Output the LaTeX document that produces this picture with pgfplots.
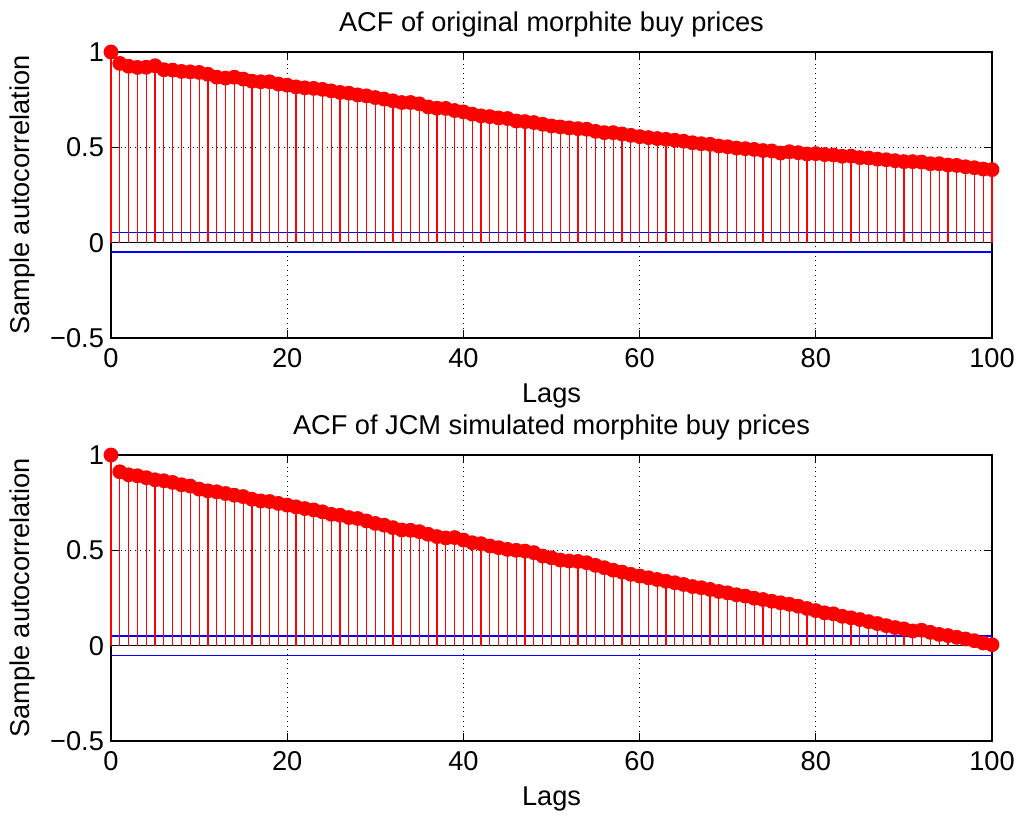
\documentclass[border=0pt]{standalone}
\usepackage{pgfplots}
\usepackage{pgfplotstable}
\pgfplotsset{compat=1.18}
\usepackage{fontspec}
\setmainfont{Liberation Sans}

\pgfplotstableread{
lag top bot
0 1.000 1.000
1 0.940 0.912
2 0.925 0.896
3 0.919 0.891
4 0.920 0.881
5 0.928 0.870
6 0.907 0.865
7 0.905 0.856
8 0.898 0.844
9 0.896 0.837
10 0.893 0.821
11 0.883 0.812
12 0.868 0.807
13 0.863 0.798
14 0.868 0.789
15 0.858 0.782
16 0.847 0.768
17 0.844 0.759
18 0.844 0.756
19 0.832 0.746
20 0.826 0.737
21 0.817 0.728
22 0.812 0.719
23 0.809 0.712
24 0.804 0.702
25 0.796 0.689
26 0.788 0.684
27 0.784 0.672
28 0.775 0.667
29 0.770 0.654
30 0.761 0.641
31 0.753 0.632
32 0.744 0.619
33 0.735 0.607
34 0.735 0.605
35 0.728 0.598
36 0.712 0.584
37 0.705 0.572
38 0.704 0.565
39 0.693 0.567
40 0.686 0.554
41 0.674 0.540
42 0.665 0.535
43 0.661 0.523
44 0.654 0.514
45 0.651 0.505
46 0.638 0.500
47 0.635 0.496
48 0.630 0.488
49 0.621 0.470
50 0.612 0.461
51 0.607 0.449
52 0.602 0.444
53 0.598 0.442
54 0.595 0.435
55 0.584 0.421
56 0.577 0.409
57 0.577 0.396
58 0.570 0.386
59 0.563 0.374
60 0.556 0.365
61 0.551 0.356
62 0.546 0.347
63 0.542 0.338
64 0.537 0.330
65 0.532 0.321
66 0.524 0.310
67 0.519 0.304
68 0.516 0.295
69 0.507 0.284
70 0.503 0.277
71 0.496 0.267
72 0.493 0.260
73 0.489 0.249
74 0.483 0.242
75 0.481 0.233
76 0.470 0.225
77 0.477 0.217
78 0.472 0.207
79 0.465 0.195
80 0.467 0.184
81 0.462 0.172
82 0.460 0.167
83 0.453 0.154
84 0.454 0.146
85 0.446 0.137
86 0.444 0.126
87 0.438 0.116
88 0.435 0.105
89 0.430 0.095
90 0.425 0.088
91 0.425 0.077
92 0.423 0.081
93 0.414 0.070
94 0.414 0.059
95 0.407 0.053
96 0.405 0.044
97 0.398 0.035
98 0.393 0.026
99 0.386 0.014
100 0.383 0.005
}\acfdata

\definecolor{mred}{rgb}{1,0,0}
\definecolor{mblue}{rgb}{0,0,1}

\pgfplotsset{
  acfstyle/.style={
    scale only axis,
    width=440.5pt, height=143pt,
    xmin=0, xmax=100, ymin=-0.5, ymax=1,
    xtick={0,20,40,60,80,100},
    ytick={-0.5,0,0.5,1},
    yticklabels={−0.5,0,0.5,1},
    tick align=inside,
    major tick length=4pt,
    tick style={black, line width=0.5pt},
    axis line style={black, line width=0.7pt},
    grid=major,
    major grid style={dotted, black, line width=0.5pt},
    every tick label/.append style={font=\fontsize{13.6}{15}\selectfont},
    xticklabel style={anchor=base, yshift=-15pt},
    /pgf/number format/assume math mode=true,
    label style={font=\fontsize{13.6}{15}\selectfont},
    xlabel style={at={(axis description cs:0.5,0)}, anchor=base, yshift=-32.3pt},
    ylabel style={at={(axis description cs:-0.092,0.5)}, anchor=base},
    title style={font=\fontsize{13.6}{15}\selectfont, at={(axis description cs:0.5,1)}, anchor=base, yshift=4pt},
    xlabel={Lags},
    ylabel={Sample autocorrelation},
    clip=false,
  }
}

\begin{document}
\begin{tikzpicture}
\useasboundingbox (-55.5pt,-239.5pt) rectangle (455.5pt,169pt);
\begin{axis}[acfstyle, title={ACF of original morphite buy prices}]
  \addplot[black, line width=0.8pt] coordinates {(0,0) (100,0)};
  \addplot[mblue, line width=0.75pt] coordinates {(0,0.052) (100,0.052)};
  \addplot[mblue, line width=0.75pt] coordinates {(0,-0.048) (100,-0.048)};
  \addplot[ycomb, mred, line width=0.6pt, mark=*, mark size=3.4pt, mark options={fill=mred, draw=mred}] table[x=lag, y=top] {\acfdata};
\end{axis}
\begin{axis}[acfstyle, at={(0,-201.5pt)}, title={ACF of JCM simulated morphite buy prices}]
  \addplot[black, line width=0.8pt] coordinates {(0,0) (100,0)};
  \addplot[mblue, line width=0.75pt] coordinates {(0,0.052) (100,0.052)};
  \addplot[mblue, line width=0.75pt] coordinates {(0,-0.052) (100,-0.052)};
  \addplot[ycomb, mred, line width=0.6pt, mark=*, mark size=3.4pt, mark options={fill=mred, draw=mred}] table[x=lag, y=bot] {\acfdata};
\end{axis}
\end{tikzpicture}
\end{document}
